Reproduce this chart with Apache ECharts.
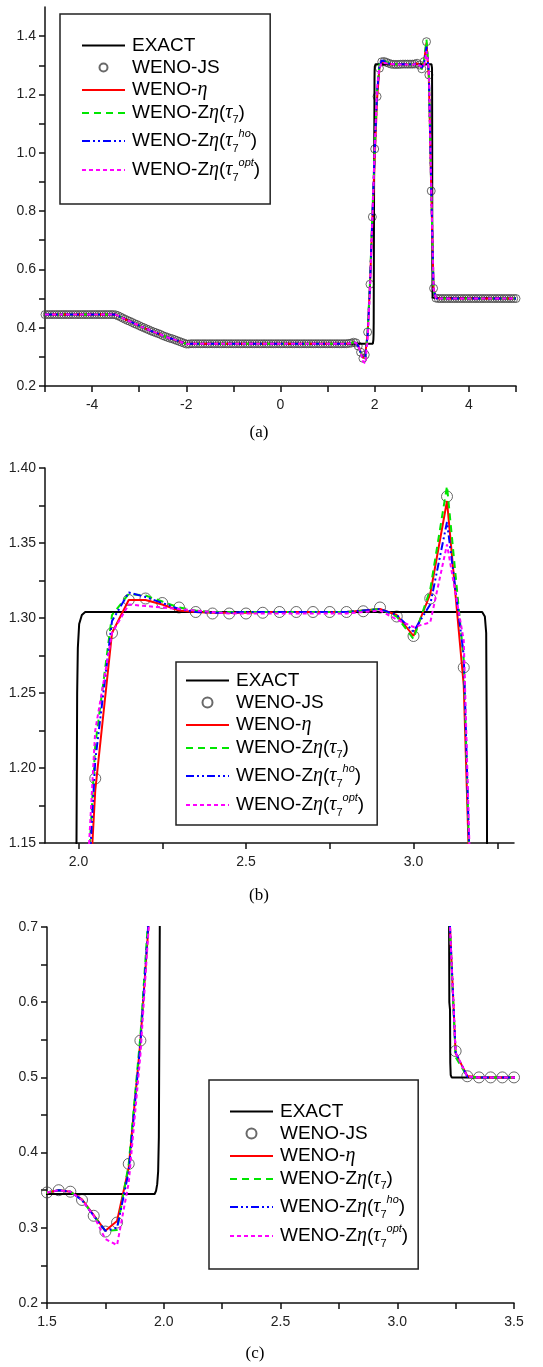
<!DOCTYPE html>
<html>
<head>
<meta charset="utf-8">
<script src="https://cdn.jsdelivr.net/npm/echarts@6/dist/echarts.min.js"></script>
<style>
  html, body { margin: 0; padding: 0; background: #fff; }
  #main { width: 543px; height: 1367px; }
</style>
</head>
<body>
<div id="main"></div>
<script>
// Mesh: x_i = -5 + 0.05 i, i = 0..200
const X_START = -5;
const DX = 0.05;

// WENO-JS density at every mesh point
const rhoWenoJS = [
  0.445,0.445,0.445,0.445,0.445,0.445,0.445,0.445,0.445,0.445,
  0.445,0.445,0.445,0.445,0.445,0.445,0.445,0.445,0.445,0.445,
  0.445,0.445,0.445,0.445,0.445,0.445,0.445,0.445,0.445,0.445,
  0.444,0.441,0.437,0.433,0.429,0.425,0.422,0.418,0.414,0.411,
  0.407,0.403,0.400,0.396,0.393,0.389,0.386,0.383,0.380,0.377,
  0.373,0.370,0.367,0.364,0.362,0.359,0.356,0.353,0.350,0.347,
  0.344,0.344,
  0.345,0.345,0.345,0.345,0.345,0.345,0.345,0.345,0.345,0.345,
  0.345,0.345,0.345,0.345,0.345,0.345,0.345,0.345,0.345,0.345,
  0.345,0.345,0.345,0.345,0.345,0.345,0.345,0.345,0.345,0.345,
  0.345,0.345,0.345,0.345,0.345,0.345,0.345,0.345,0.345,0.345,
  0.345,0.345,0.345,0.345,0.345,0.345,0.345,0.345,0.345,0.345,
  0.345,0.345,0.345,0.345,0.345,0.345,0.345,0.345,0.345,0.345,
  0.345,0.345,0.345,0.345,0.345,0.345,0.345,
  0.346,0.347,0.350,0.348,0.337,0.316,0.295,0.307,0.385,0.549,
  0.780,1.013,1.193,1.290,1.312,1.313,1.310,1.307,1.304,1.303,
  1.303,1.303,1.3035,1.304,1.304,1.304,1.304,1.304,1.3045,1.307,
  1.301,1.288,1.313,1.381,1.267,0.869,0.535,0.5015,
  0.500,0.500,0.500,0.500,0.500,0.500,0.500,0.500,0.500,0.500,
  0.500,0.500,0.500,0.500,0.500,0.500,0.500,0.500,0.500,0.500,
  0.500,0.500,0.500,0.500,0.500,0.500,0.500,0.500,0.500,0.500,
  0.500,0.500,0.500,0.500
];

// The other schemes coincide with WENO-JS except on x = 1.60 ... 3.30
const WIN_X0 = 1.60;
const rhoEta = [
  0.348,0.338,0.317,0.296,0.309,0.380,0.548,0.770,0.980,1.185,
  1.290,1.312,1.312,1.309,1.305,1.304,1.3035,1.3035,1.3035,1.304,
  1.304,1.304,1.304,1.304,1.304,1.305,1.306,1.302,1.288,1.316,
  1.378,1.255,0.880,0.532,0.502
];
const rhoTau7 = [
  0.348,0.337,0.316,0.296,0.297,0.385,0.555,0.790,1.010,1.215,
  1.302,1.316,1.315,1.311,1.307,1.305,1.304,1.304,1.304,1.304,
  1.304,1.304,1.304,1.304,1.304,1.305,1.306,1.301,1.286,1.319,
  1.388,1.272,0.875,0.527,0.501
];
const rhoTauHo = [
  0.348,0.337,0.316,0.296,0.300,0.375,0.545,0.780,1.000,1.205,
  1.298,1.317,1.314,1.310,1.306,1.304,1.3035,1.3035,1.304,1.304,
  1.304,1.304,1.304,1.304,1.304,1.305,1.306,1.302,1.291,1.309,
  1.364,1.275,0.880,0.533,0.501
];
const rhoTauOpt = [
  0.348,0.337,0.316,0.285,0.277,0.360,0.530,0.770,1.020,1.225,
  1.290,1.309,1.308,1.307,1.306,1.305,1.304,1.303,1.303,1.303,
  1.303,1.303,1.303,1.303,1.303,1.304,1.305,1.299,1.294,1.297,
  1.349,1.285,0.880,0.533,0.501
];

// Reference (exact) solution, [x, rho]
const exactPts = [
  [-5,0.445],[-3.5,0.445],[-3.25,0.4255],[-3.0,0.407],[-2.75,0.389],[-2.5,0.373],
  [-2.25,0.358],[-2.0,0.345],[1.961,0.345],[1.967,0.349],[1.972,0.358],[1.976,0.375],
  [1.979,0.42],[1.981,0.55],[1.983,0.70],[1.988,0.95],[1.994,1.15],[1.996,1.25],
  [1.998,1.28],[2.002,1.296],[2.010,1.302],[2.020,1.304],[3.205,1.304],[3.213,1.301],
  [3.217,1.29],[3.219,1.20],[3.221,1.0],[3.222,0.70],[3.223,0.60],[3.226,0.59],
  [3.227,0.52],[3.229,0.503],[3.233,0.5],[5,0.5]
];

// Tick positions and labels of the three panels
const xTicksA = [-5,-4,-3,-2,-1,0,1,2,3,4,5];
const xLabelsA = [-4,-2,0,2,4];
const yTicksA = [0.2,0.3,0.4,0.5,0.6,0.7,0.8,0.9,1.0,1.1,1.2,1.3,1.4];
const yLabelsA = [0.2,0.4,0.6,0.8,1.0,1.2,1.4];
const xTicksB = [2.0,2.25,2.5,2.75,3.0,3.25];
const xLabelsB = [2.0,2.5,3.0];
const yTicksB = [1.15,1.175,1.2,1.225,1.25,1.275,1.3,1.325,1.35,1.375,1.4];
const yLabelsB = [1.15,1.2,1.25,1.3,1.35,1.4];
const xTicksC = [1.5,1.75,2.0,2.25,2.5,2.75,3.0,3.25,3.5];
const xLabelsC = [1.5,2.0,2.5,3.0,3.5];
const yTicksC = [0.2,0.25,0.3,0.35,0.4,0.45,0.5,0.55,0.6,0.65,0.7];
const yLabelsC = [0.2,0.3,0.4,0.5,0.6,0.7];

const names = ['EXACT', 'WENO-JS', 'WENO-η', 'WENO-Zη(τ7)', 'WENO-Zη(τ7ho)', 'WENO-Zη(τ7opt)'];

// ---- build point lists ----
const xGrid = rhoWenoJS.map((_, i) => +(X_START + i * DX).toFixed(2));
const WIN_FIRST = Math.round((WIN_X0 - X_START) / DX);
function schemePoints(win) {
  return rhoWenoJS.map((v, i) => {
    const j = i - WIN_FIRST;
    return [xGrid[i], (j >= 0 && j < win.length) ? win[j] : v];
  });
}
const jsPts = rhoWenoJS.map((v, i) => [xGrid[i], v]);
const etaPts = schemePoints(rhoEta);
const tau7Pts = schemePoints(rhoTau7);
const hoPts = schemePoints(rhoTauHo);
const optPts = schemePoints(rhoTauOpt);

// ---- panel layout ----
const panels = [
  { grid: { left: 45, top: 7, width: 471, height: 379 },
    x: { min: -5, max: 5, ticks: xTicksA, labels: xLabelsA, digits: 0 },
    y: { min: 0.2, max: 1.5, ticks: yTicksA, labels: yLabelsA, digits: 1 },
    sym: 8, legend: { left: 60, top: 14, padding: [22, 10, 21, 21], itemHeight: 8 },
    caption: { text: '(a)', x: 259, y: 433 } },
  { grid: { left: 45, top: 468, width: 469, height: 375 },
    x: { min: 1.9, max: 3.3, ticks: xTicksB, labels: xLabelsB, digits: 1 },
    y: { min: 1.15, max: 1.40, ticks: yTicksB, labels: yLabelsB, digits: 2 },
    sym: 11, legend: { left: 176, top: 662, padding: [9, 13, 7, 9], itemHeight: 10 },
    caption: { text: '(b)', x: 259, y: 896 } },
  { grid: { left: 47, top: 927, width: 467, height: 376 },
    x: { min: 1.5, max: 3.5, ticks: xTicksC, labels: xLabelsC, digits: 1 },
    y: { min: 0.2, max: 0.7, ticks: yTicksC, labels: yLabelsC, digits: 1 },
    sym: 11, legend: { left: 209, top: 1080, padding: [22, 10, 20, 20], itemHeight: 10 },
    caption: { text: '(c)', x: 255, y: 1354 } }
];

const SANS = '"Liberation Sans", Arial, sans-serif';
const SERIF = '"Liberation Serif", "Times New Roman", serif';

const legendRich = {
  t20: { fontSize: 19, fontFamily: SANS, lineHeight: 20, color: '#000' },
  g20: { fontSize: 20, fontFamily: SERIF, fontStyle: 'italic', lineHeight: 20, color: '#000' },
  t24: { fontSize: 19, fontFamily: SANS, lineHeight: 24, color: '#000' },
  g24: { fontSize: 20, fontFamily: SERIF, fontStyle: 'italic', lineHeight: 24, color: '#000' },
  t26: { fontSize: 19, fontFamily: SANS, lineHeight: 26, color: '#000' },
  g26: { fontSize: 20, fontFamily: SERIF, fontStyle: 'italic', lineHeight: 26, color: '#000' },
  sub: { fontSize: 11, fontFamily: SANS, lineHeight: 9, verticalAlign: 'bottom', color: '#000' },
  sup: { fontSize: 11, fontFamily: SANS, fontStyle: 'italic', lineHeight: 11, verticalAlign: 'top', color: '#000' }
};
const legendText = {
  'EXACT': '{t20|EXACT}',
  'WENO-JS': '{t20|WENO-JS}',
  'WENO-η': '{t20|WENO-}{g20|η}',
  'WENO-Zη(τ7)': '{t24|WENO-Z}{g24|η}{t24|(}{g24|τ}{sub|7}{t24|)}',
  'WENO-Zη(τ7ho)': '{t26|WENO-Z}{g26|η}{t26|(}{g26|τ}{sub|7}{sup|ho}{t26|)}',
  'WENO-Zη(τ7opt)': '{t26|WENO-Z}{g26|η}{t26|(}{g26|τ}{sub|7}{sup|opt}{t26|)}'
};

const grids = [], xAxes = [], yAxes = [], series = [], legends = [], graphics = [];

// line series draw no point symbols, so their legend entries show only the line
const noSymbol = { color: 'rgba(0,0,0,0)', borderWidth: 0 };

panels.forEach((p, k) => {
  grids.push(Object.assign({ containLabel: false }, p.grid));
  const axisCommon = {
    gridIndex: k, type: 'value',
    axisLine: { show: true, onZero: false, lineStyle: { color: '#111', width: 1.5 } },
    splitLine: { show: false }
  };
  xAxes.push(Object.assign({}, axisCommon, {
    position: 'bottom', min: p.x.min, max: p.x.max,
    axisTick: { show: true, length: 6, customValues: p.x.ticks, lineStyle: { color: '#111', width: 1.5 } },
    axisLabel: { customValues: p.x.labels, margin: 12, fontSize: 14, fontFamily: SANS, color: '#222',
      formatter: v => (+v).toFixed(p.x.digits) }
  }));
  yAxes.push(Object.assign({}, axisCommon, {
    position: 'left', min: p.y.min, max: p.y.max,
    axisTick: { show: true, length: 6, customValues: p.y.ticks, lineStyle: { color: '#111', width: 1.5 } },
    axisLabel: { customValues: p.y.labels, margin: 9, fontSize: 14, fontFamily: SANS, color: '#222',
      formatter: v => (+v).toFixed(p.y.digits) }
  }));

  const base = { xAxisIndex: k, yAxisIndex: k, animation: false, silent: true };
  series.push(Object.assign({}, base, {
    type: 'line', name: names[0], data: exactPts, symbol: 'none', showSymbol: false,
    itemStyle: noSymbol, lineStyle: { color: '#000', width: 2 }
  }));
  series.push(Object.assign({}, base, {
    type: 'scatter', name: names[1], data: jsPts, symbol: 'circle', symbolSize: p.sym,
    itemStyle: { color: 'rgba(0,0,0,0)', borderColor: '#444', borderWidth: 1 }
  }));
  series.push(Object.assign({}, base, {
    type: 'line', name: names[2], data: etaPts, symbol: 'none', showSymbol: false,
    itemStyle: noSymbol, lineStyle: { color: '#ff0000', width: 2 }
  }));
  series.push(Object.assign({}, base, {
    type: 'line', name: names[3], data: tau7Pts, symbol: 'none', showSymbol: false,
    itemStyle: noSymbol, lineStyle: { color: '#00e600', width: 2, type: [7, 5] }
  }));
  series.push(Object.assign({}, base, {
    type: 'line', name: names[4], data: hoPts, symbol: 'none', showSymbol: false,
    itemStyle: noSymbol, lineStyle: { color: '#0000ff', width: 2, type: [8, 3, 2, 3, 2, 3] }
  }));
  series.push(Object.assign({}, base, {
    type: 'line', name: names[5], data: optPts, symbol: 'none', showSymbol: false,
    itemStyle: noSymbol, lineStyle: { color: '#ff00ff', width: 2, type: [4, 3] }
  }));

  legends.push({
    orient: 'vertical', left: p.legend.left, top: p.legend.top, padding: p.legend.padding,
    itemGap: 3, itemWidth: 43, itemHeight: p.legend.itemHeight,
    borderColor: '#222', borderWidth: 1.5, selectedMode: false,
    data: names,
    formatter: n => legendText[n],
    textStyle: { fontSize: 19, fontFamily: SANS, color: '#000', padding: [0, 0, 0, 2], rich: legendRich }
  });

  graphics.push({
    type: 'text', x: p.caption.x, y: p.caption.y, silent: true,
    style: { text: p.caption.text, font: '17px ' + SERIF, fill: '#000',
      textAlign: 'center', textVerticalAlign: 'middle' }
  });
});

const chart = echarts.init(document.getElementById('main'), null, { renderer: 'canvas' });
chart.setOption({
  animation: false,
  backgroundColor: '#fff',
  textStyle: { fontFamily: SANS },
  grid: grids,
  xAxis: xAxes,
  yAxis: yAxes,
  legend: legends,
  series: series,
  graphic: graphics
});
</script>
</body>
</html>
